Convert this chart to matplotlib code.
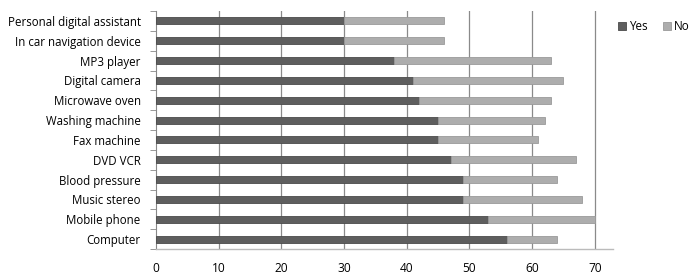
import matplotlib
matplotlib.use("Agg")
import matplotlib.pyplot as plt
import numpy as np

categories = ["Personal digital assistant", "In car navigation device", "MP3 player",
              "Digital camera", "Microwave oven", "Washing machine", "Fax machine",
              "DVD VCR", "Blood pressure", "Music stereo", "Mobile phone", "Computer"]
yes_vals = [30, 30, 38, 41, 42, 45, 45, 47, 49, 49, 53, 56]
no_vals = [16, 16, 25, 24, 21, 17, 16, 20, 15, 19, 17, 8]
xticks = [0, 10, 20, 30, 40, 50, 60, 70]

plt.rcParams['font.family'] = ['Open Sans', 'DejaVu Sans']

fig = plt.figure(figsize=(7.0, 2.79), dpi=100)
ax = fig.add_axes([156/700, 1 - 249/279, (613-156)/700, (249-11)/279])

n = len(categories)
y = np.arange(n)[::-1]
h = 0.36
dark = "#5e5e5e"
light = "#adadad"
ax.barh(y, yes_vals, height=h, color=dark, edgecolor="#4a4a4a", linewidth=0.6, label="Yes", zorder=3)
ax.barh(y, no_vals, left=yes_vals, height=h, color=light, edgecolor="#9a9a9a", linewidth=0.6, label="No", zorder=3)

ax.set_xlim(0, 72.9)
ax.set_ylim(-0.5, n - 0.5)
ax.set_xticks(xticks)
ax.set_xticklabels([str(v) for v in xticks], fontsize=8.6)
ax.set_yticks(y)
ax.set_yticklabels(categories, fontsize=8.3)
ax.tick_params(axis='y', length=0, pad=11)
ax.tick_params(axis='x', length=0, pad=9)
ax.set_yticks(np.arange(-0.5, n, 1.0), minor=True)
ax.tick_params(axis='y', which='minor', length=4, color="#888888", direction='out')

for v in xticks[1:]:
    ax.axvline(v, color="#8a8a8a", linewidth=0.9, zorder=1)

for s in ["top", "right"]:
    ax.spines[s].set_visible(False)
ax.spines["left"].set_color("#888888")
ax.spines["bottom"].set_color("#bbbbbb")
ax.spines["bottom"].set_linewidth(1.0)

leg = fig.legend(loc="upper left", bbox_to_anchor=(618/700, 1 - 20/279), ncol=2, frameon=False,
                 fontsize=8.4, handlelength=0.7, handleheight=0.7, handletextpad=0.25,
                 columnspacing=1.3, borderaxespad=0, borderpad=0)

fig.savefig("out.png", dpi=100)
